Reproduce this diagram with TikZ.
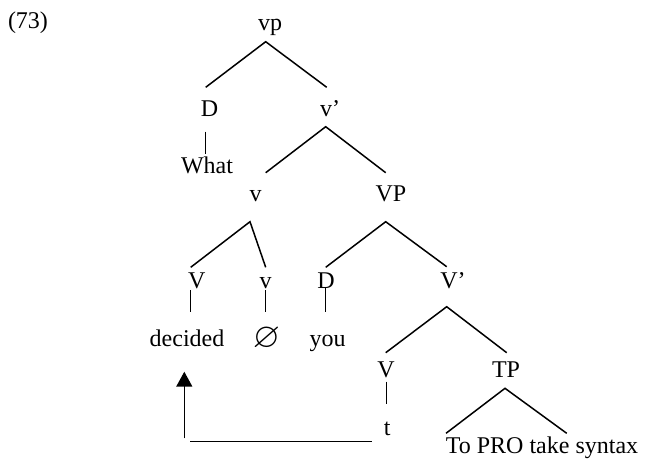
\documentclass[tikz,border=0pt]{standalone}
\usepackage{fontspec}
\setmainfont{Liberation Serif}
\usepackage{amssymb}
\usetikzlibrary{arrows.meta}
\tikzstyle{lbl} = [font=\fontsize{24}{28}\selectfont, inner sep=0pt, anchor=base]
\tikzstyle{branch} = [line width=1.5pt]
\tikzstyle{move} = [line width=1.5pt]

\begin{document}
\begin{tikzpicture}[x=1pt, y=-1pt]
\useasboundingbox (0,0) rectangle (645,467);

% labels, placed by their baselines
\node[lbl] (num) at (28,28) {(73)};
\node[lbl] (vp) at (270,30) {vp};
\node[lbl] (dwh) at (209.5,116.7) {D};
\node[lbl] (vbar) at (330,116.7) {v’};
\node[lbl] (what) at (207,173.3) {What};
\node[lbl] (vhead) at (255.7,201.7) {v};
\node[lbl] (VP) at (391,201.7) {VP};
\node[lbl] (Vdec) at (196.7,288.3) {V};
\node[lbl] (vnull) at (265.7,288.3) {v};
\node[lbl] (dyou) at (326,288.3) {D};
\node[lbl] (Vbar) at (453,288.3) {V’};
\node[lbl] (decided) at (187,346.7) {decided};
\node[lbl, font=\fontsize{35}{40}\selectfont] (null) at (266.5,347.5) {$\varnothing$};
\node[lbl] (you) at (327.5,346.7) {you};
\node[lbl] (Vt) at (386,377.7) {V};
\node[lbl] (TP) at (506,377.7) {TP};
\node[lbl] (t) at (387.3,435) {t};
\node[lbl] (inf) at (542,453.3) {To PRO take syntax};

% branches
\draw[branch] ([shift={(-3.8,-29.4)}]dwh.base) -- ([shift={(-4.3,11.7)}]vp.base)
  -- ([shift={(-3.3,-29.4)}]vbar.base);
\draw[branch] ([shift={(-3.8,15)}]dwh.base) -- ([shift={(-1.3,-19.3)}]what.base);
\draw[branch] ([shift={(10,-29)}]vhead.base) -- ([shift={(-4.3,10)}]vbar.base)
  -- ([shift={(-5.3,-29)}]VP.base);
\draw[branch] ([shift={(-6,-21)}]Vdec.base) -- ([shift={(-5.7,20)}]vhead.base)
  -- ([shift={(0,-21)}]vnull.base);
\draw[branch] ([shift={(-0.3,-21)}]dyou.base) -- ([shift={(-5.3,20)}]VP.base)
  -- ([shift={(-6.3,-21.6)}]Vbar.base);
\draw[branch] ([shift={(-6,1.7)}]Vdec.base) -- ([shift={(3.7,-35)}]decided.base);
\draw[branch] ([shift={(0,1.7)}]vnull.base) -- ([shift={(-0.8,-35.8)}]null.base);
\draw[branch] ([shift={(-0.3,0)}]dyou.base) -- ([shift={(-1.8,-35)}]you.base);
\draw[branch] ([shift={(-0.3,-25)}]Vt.base) -- ([shift={(-6.3,18.4)}]Vbar.base)
  -- ([shift={(0.7,-25)}]TP.base);
\draw[branch] ([shift={(0.7,4)}]Vt.base) -- ([shift={(-0.6,-31)}]t.base);
\draw[branch] ([shift={(-96,-20)}]inf.base) -- ([shift={(-1,10.6)}]TP.base)
  -- ([shift={(24.7,-20)}]inf.base);

% movement of the verb
\draw[move] ([shift={(-15.6,6.7)}]t.base) -- ([shift={(3,95)}]decided.base);
\draw[move, -{Triangle[length=15pt, width=16pt]}] ([shift={(-2.7,91.6)}]decided.base)
  -- ([shift={(-2.7,25)}]decided.base);
\end{tikzpicture}
\end{document}
